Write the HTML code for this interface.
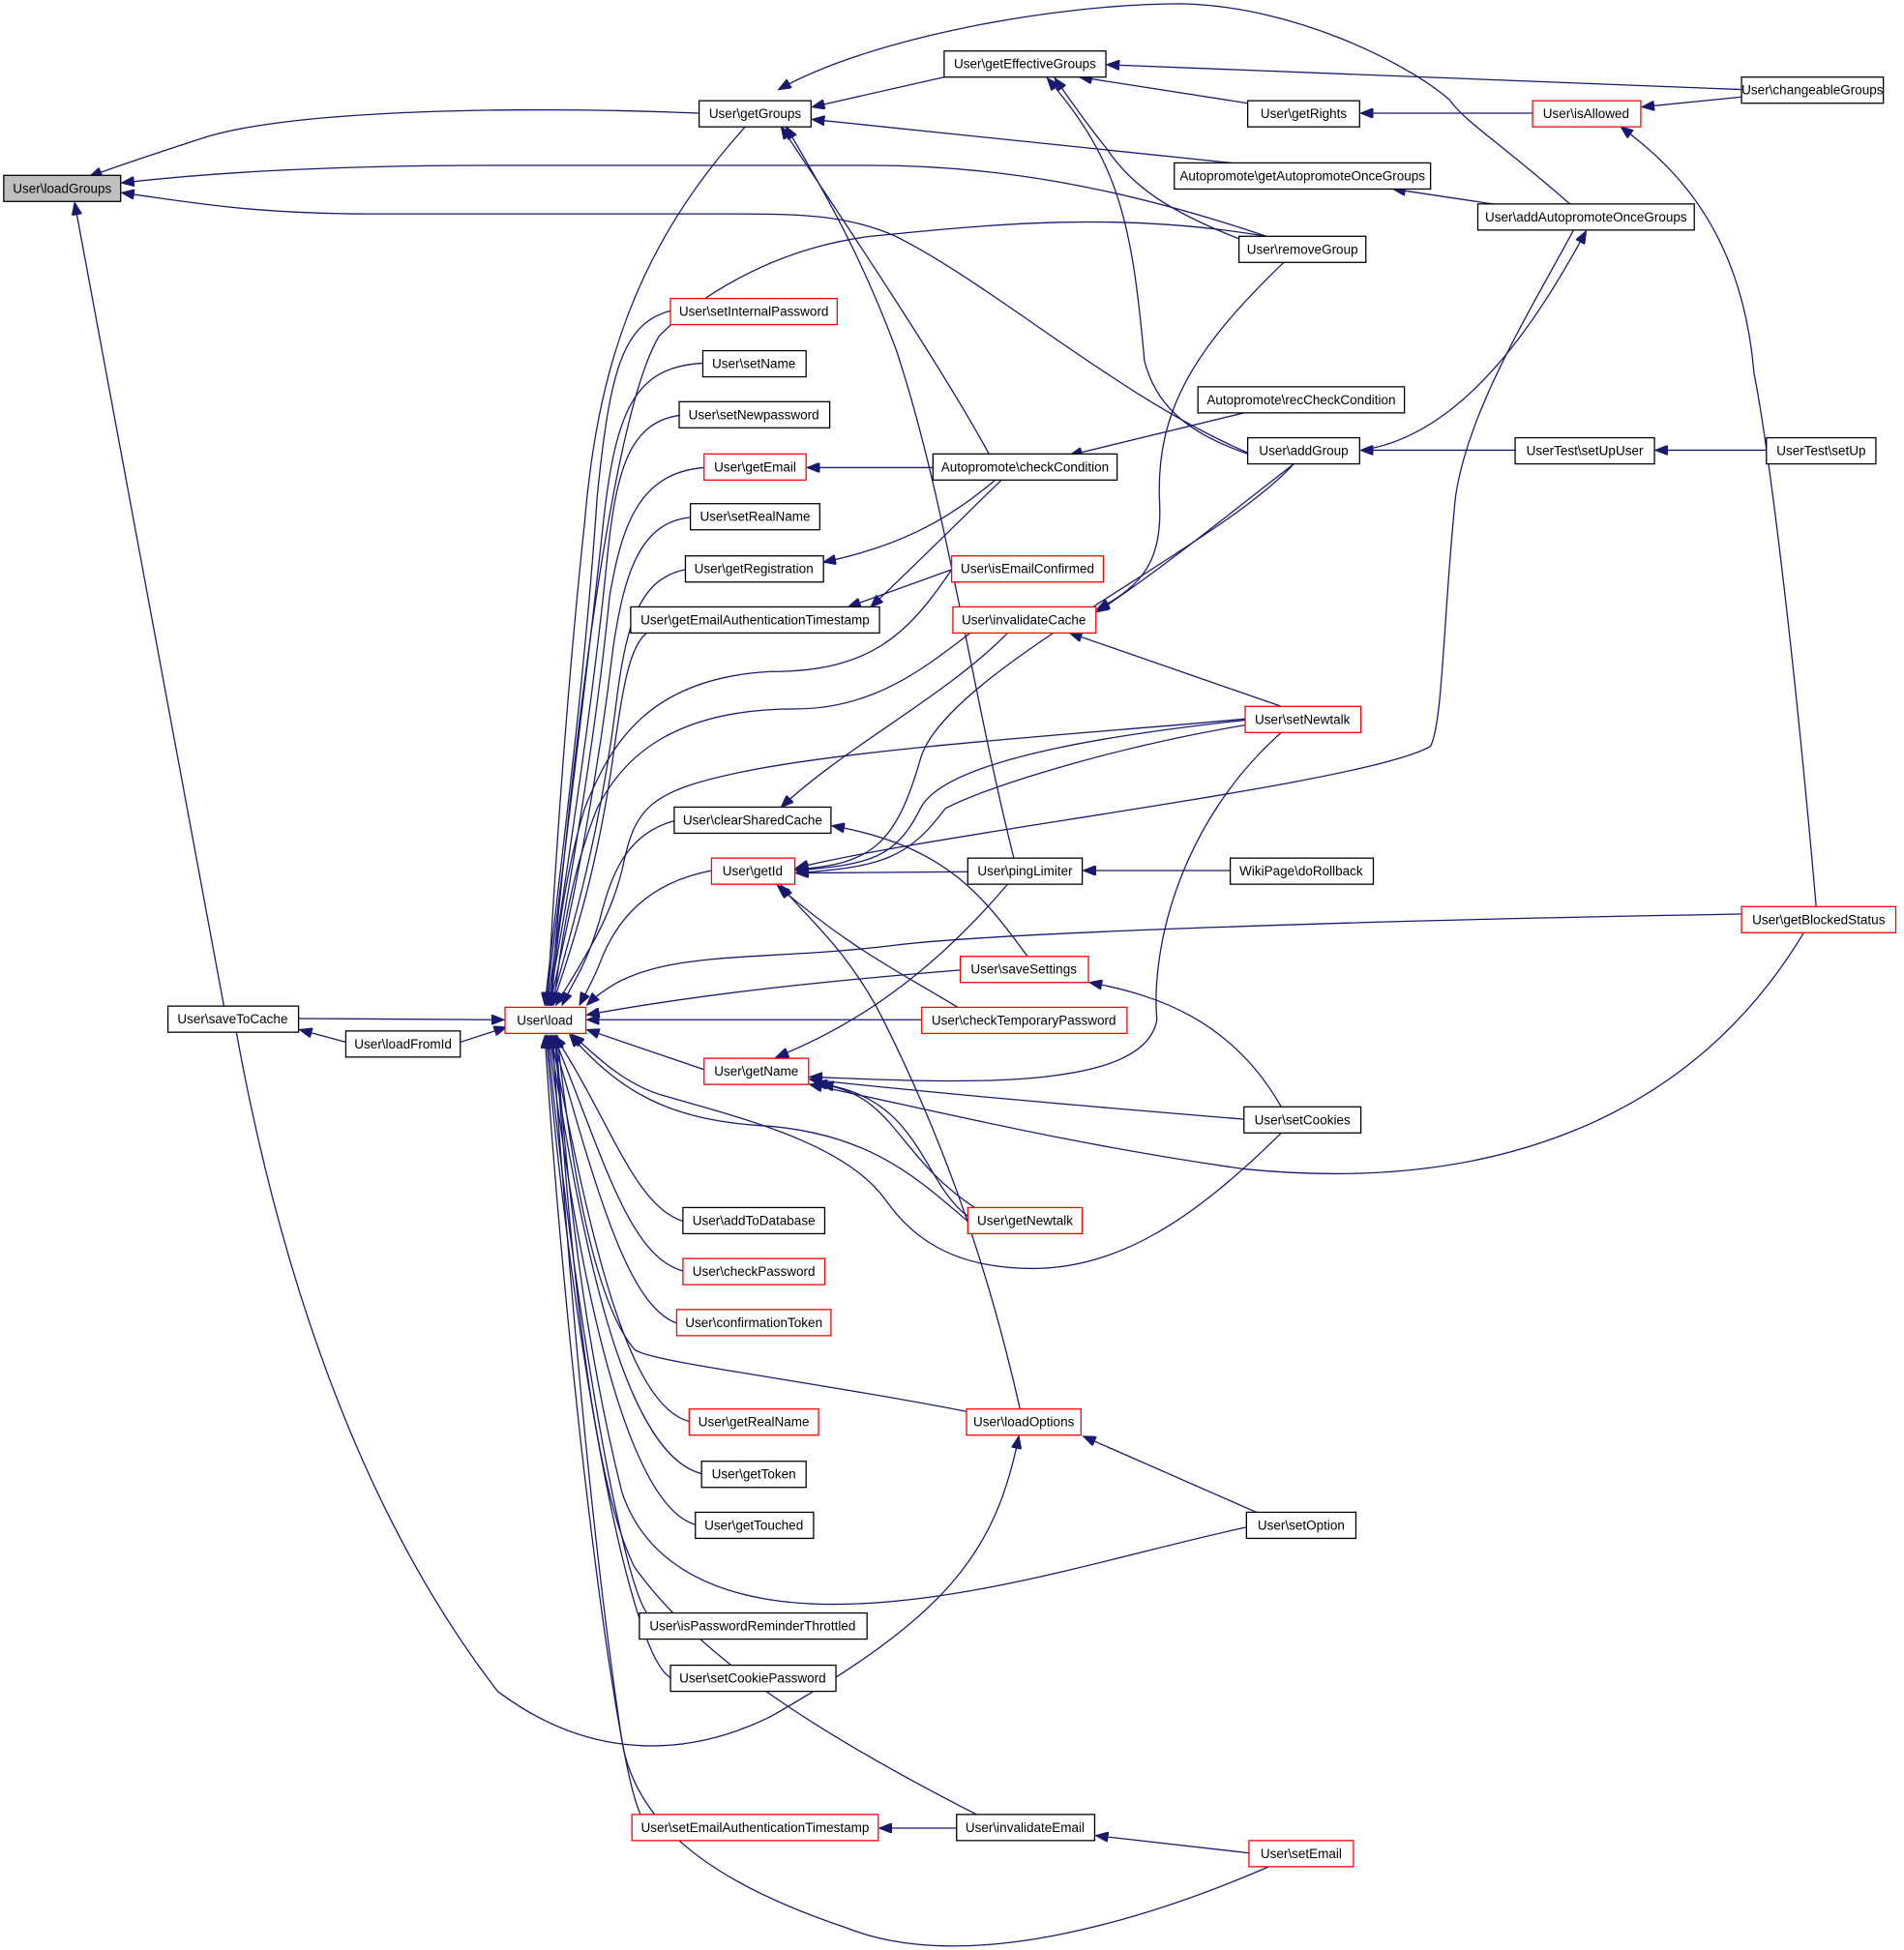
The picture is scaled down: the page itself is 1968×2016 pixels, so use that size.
<!DOCTYPE html>
<html><head><meta charset="utf-8"><style>
html,body{margin:0;padding:0;background:#fff;}
svg{display:block;}
text{font-family:"Liberation Sans",sans-serif;font-size:10.5px;text-anchor:middle;fill:#000;}
.e{fill:none;stroke:#191970;stroke-width:1;marker-end:url(#a);}
.b{fill:#fff;stroke:#000;stroke-width:1;}
.r{fill:#fff;stroke:#ff0000;stroke-width:1;}
</style></head><body>
<svg width="1968" height="2016" viewBox="0 0 1530.6 1568" preserveAspectRatio="none" xmlns="http://www.w3.org/2000/svg">
<defs><marker id="a" markerWidth="11" markerHeight="8" refX="10" refY="4" orient="auto" markerUnits="userSpaceOnUse"><path d="M0,0 L10,4 L0,8 Z" fill="#191970" stroke="#191970"/></marker></defs>
<rect width="1530.6" height="1568" fill="#fff"/>
<g>
<!-- to loadGroups -->
<path class="e" d="M562,91 C420,85 230,88 160,112 C120,125 90,135 72,142"/>
<path class="e" d="M1018,190 C900,150 800,133 700,133 L400,133 C250,133 160,140 98,147"/>
<path class="e" d="M1003,364 C900,320 800,230 720,190 C680,172 640,172 580,172 L300,172 C200,172 150,162 98,155"/>
<path class="e" d="M180,809 L60,163"/>
<!-- getGroups -->
<path class="e" d="M759,62 L653,86"/>
<path class="e" d="M1262,164 C1200,110 1180,100 1165,80 C1130,50 1040,5 950,3 C850,3 700,30 626,72"/>
<path class="e" d="M990,131 L653,96"/>
<path class="e" d="M795,365 C760,300 680,180 628,102"/>
<path class="e" d="M815,690 C780,550 760,400 720,280 C690,200 660,150 632,102"/>
<!-- getEffectiveGroups -->
<path class="e" d="M1400,72 L890,52"/>
<path class="e" d="M1003,83 L868,62"/>
<path class="e" d="M996,192 C940,170 910,150 890,120 C870,95 860,80 848,63"/>
<path class="e" d="M1003,365 C960,350 930,330 920,290 C910,180 900,130 842,63"/>
<!-- isAllowed / getRights -->
<path class="e" d="M1232,91 L1094,91"/>
<path class="e" d="M1400,78 L1320,86"/>
<path class="e" d="M1460,729 C1440,500 1420,350 1410,300 C1400,180 1340,130 1303,102"/>
<!-- autopromote -->
<path class="e" d="M1200,164 L1120,152"/>
<path class="e" d="M1094,362 C1180,350 1240,250 1275,186"/>
<path class="e" d="M1218,362 L1094,362"/>
<path class="e" d="M1420,362 L1331,362"/>
<path class="e" d="M1000,332 L860,366"/>
<path class="e" d="M750,376 L649,376"/>
<path class="e" d="M800,386 C760,420 720,440 662,452"/>
<path class="e" d="M805,386 C770,420 730,460 700,488"/>
<path class="e" d="M765,458 L682,488"/>
<!-- invalidateCache -->
<path class="e" d="M1032,211 C960,280 930,330 932,400 C935,450 920,470 882,490"/>
<path class="e" d="M1040,373 C980,420 930,460 882,492"/>
<path class="e" d="M1030,568 L860,509"/>
<path class="e" d="M810,509 C760,560 680,600 628,649"/>
<path class="e" d="M826,769 C790,720 760,680 669,664"/>
<!-- getId -->
<path class="e" d="M1001,579 C900,590 760,610 740,650 C720,690 700,695 640,700"/>
<path class="e" d="M1001,583 C900,600 800,630 760,650 C730,690 710,697 640,702"/>
<path class="e" d="M1040,373 C980,440 760,540 740,610 C720,680 700,695 640,699"/>
<path class="e" d="M1265,185 C1230,250 1180,330 1170,400 C1160,500 1160,580 1150,600 C1100,630 750,670 640,698"/>
<path class="e" d="M778,701 L640,702"/>
<path class="e" d="M770,810 C720,780 680,760 625,712"/>
<path class="e" d="M820,1133 C790,1000 750,900 710,820 C680,760 640,730 628,712"/>
<path class="e" d="M989,700 L871,700"/>
<path class="e" d="M810,711 C760,770 700,820 624,850"/>
<!-- load right side -->
<path class="e" d="M1400,735 C1100,740 800,750 720,760 C600,775 520,760 472,808"/>
<path class="e" d="M772,780 C650,790 560,800 472,816"/>
<path class="e" d="M741,820 L472,820"/>
<path class="e" d="M566,860 L472,828"/>
<path class="e" d="M370,838 L407,826"/>
<path class="e" d="M240,819 L405,820"/>
<path class="e" d="M278,838 L241,828"/>
<path class="e" d="M190,830 C230,1050 300,1230 400,1360 C480,1420 560,1410 620,1380 C760,1300 800,1250 819,1155"/>
<!-- getName -->
<path class="e" d="M1030,589 C950,660 925,760 930,820 C920,880 760,870 651,866"/>
<path class="e" d="M1000,900 C880,890 760,880 651,868"/>
<path class="e" d="M1450,750 C1360,900 1200,960 1000,940 C860,920 760,895 651,872"/>
<path class="e" d="M778,978 C740,950 740,880 655,871"/>
<path class="e" d="M785,972 C720,930 720,880 660,872"/>
<path class="e" d="M1030,890 C990,820 930,800 876,790"/>
<path class="e" d="M1030,911 C960,980 900,1020 830,1020 C760,1020 730,990 712,965 C680,920 600,900 530,880 C500,870 480,850 460,832"/>
<path class="e" d="M778,982 C740,950 700,910 610,905 C540,900 500,880 458,832"/>
<path class="e" d="M1010,1216 L871,1155"/>
<path class="e" d="M1002,1228 C900,1250 780,1290 670,1290 C580,1290 520,1260 500,1200 C470,1080 455,950 447,833"/>
<path class="e" d="M777,1135 C650,1110 520,1095 510,1085 C480,1050 460,950 448,833"/>
<path class="e" d="M769,1470 L707,1470"/>
<path class="e" d="M1004,1490 L881,1476"/>
<path class="e" d="M785,1459 C650,1390 560,1330 510,1260 C470,1180 455,950 446,833"/>
<path class="e" d="M1020,1501 C930,1540 780,1590 680,1550 C560,1510 510,1460 500,1400 C470,1200 452,950 444,833"/>
<!-- from far nodes to load top -->
<path class="e" d="M600,101 C510,200 480,300 470,420 C455,560 446,700 440,808"/>
<path class="e" d="M1018,190 C900,170 800,180 700,190 C620,200 560,240 530,270 C500,320 470,500 442,808"/>
<path class="e" d="M765,458 C730,510 700,540 620,540 C520,545 490,600 470,650 C455,700 448,750 443,808"/>
<path class="e" d="M780,509 C740,540 700,570 640,570 C540,570 500,610 480,650 C460,700 452,750 445,808"/>
<path class="e" d="M1001,578 C900,588 700,600 600,620 C520,636 510,650 500,700 C490,740 470,770 447,808"/>
<!-- left column children -> load -->
<path class="e" d="M539,250 C500,260 490,300 480,400 C470,550 450,700 438,808"/>
<path class="e" d="M565,292 C510,295 495,330 485,420 C470,560 452,700 439,808"/>
<path class="e" d="M546,334 C505,340 495,380 488,450 C475,580 455,700 440,808"/>
<path class="e" d="M566,376 C515,380 500,420 490,480 C478,600 458,710 441,808"/>
<path class="e" d="M555,416 C515,420 502,460 493,520 C480,630 462,720 442,808"/>
<path class="e" d="M551,458 C515,465 504,500 496,560 C484,660 465,730 443,808"/>
<path class="e" d="M520,509 C505,520 500,560 494,600 C482,690 464,750 444,808"/>
<path class="e" d="M542,660 C505,670 492,700 482,740 C470,780 460,790 452,808"/>
<path class="e" d="M572,700 C520,710 495,740 482,775 C476,790 470,800 466,808"/>
<path class="e" d="M549,982 C510,970 490,900 446,833"/>
<path class="e" d="M549,1022 C505,1010 485,930 445,833"/>
<path class="e" d="M544,1064 C505,1050 480,960 444,833"/>
<path class="e" d="M554,1143 C505,1130 475,1000 443,833"/>
<path class="e" d="M564,1185 C505,1170 470,1020 442,833"/>
<path class="e" d="M559,1226 C505,1210 466,1040 441,833"/>
<path class="e" d="M520,1297 C500,1270 462,1060 440,833"/>
<path class="e" d="M539,1349 C505,1330 460,1080 439,833"/>
<path class="e" d="M515,1459 C495,1420 455,1100 438,833"/>
</g>
<g>
<rect x="3" y="141" width="94" height="21" fill="#bfbfbf" stroke="#000"/><text x="50" y="155">User\loadGroups</text>
<rect class="b" x="562" y="81" width="90" height="21"/><text x="607" y="95">User\getGroups</text>
<rect class="b" x="759" y="41" width="130" height="21"/><text x="824" y="55">User\getEffectiveGroups</text>
<rect class="b" x="1400" y="62" width="114" height="21"/><text x="1457" y="76">User\changeableGroups</text>
<rect class="b" x="1003" y="81" width="90" height="21"/><text x="1048" y="95">User\getRights</text>
<rect class="r" x="1232" y="81" width="87" height="21"/><text x="1275" y="95">User\isAllowed</text>
<rect class="b" x="944" y="131" width="206" height="21"/><text x="1047" y="145">Autopromote\getAutopromoteOnceGroups</text>
<rect class="b" x="1188" y="164" width="174" height="21"/><text x="1275" y="178">User\addAutopromoteOnceGroups</text>
<rect class="b" x="996" y="190" width="102" height="21"/><text x="1047" y="204">User\removeGroup</text>
<rect class="r" x="539" y="240" width="134" height="21"/><text x="606" y="254">User\setInternalPassword</text>
<rect class="b" x="565" y="282" width="83" height="21"/><text x="606" y="296">User\setName</text>
<rect class="b" x="546" y="323" width="121" height="21"/><text x="606" y="337">User\setNewpassword</text>
<rect class="r" x="566" y="365" width="82" height="21"/><text x="607" y="379">User\getEmail</text>
<rect class="b" x="750" y="365" width="148" height="21"/><text x="824" y="379">Autopromote\checkCondition</text>
<rect class="b" x="963" y="311" width="166" height="21"/><text x="1046" y="325">Autopromote\recCheckCondition</text>
<rect class="b" x="1003" y="352" width="90" height="21"/><text x="1048" y="366">User\addGroup</text>
<rect class="b" x="1218" y="352" width="112" height="21"/><text x="1274" y="366">UserTest\setUpUser</text>
<rect class="b" x="1420" y="352" width="88" height="21"/><text x="1464" y="366">UserTest\setUp</text>
<rect class="b" x="555" y="405" width="104" height="21"/><text x="607" y="419">User\setRealName</text>
<rect class="b" x="551" y="447" width="111" height="21"/><text x="606" y="461">User\getRegistration</text>
<rect class="b" x="507" y="488" width="200" height="21"/><text x="607" y="502">User\getEmailAuthenticationTimestamp</text>
<rect class="r" x="765" y="447" width="122" height="21"/><text x="826" y="461">User\isEmailConfirmed</text>
<rect class="r" x="766" y="488" width="115" height="21"/><text x="823" y="502">User\invalidateCache</text>
<rect class="r" x="1001" y="568" width="93" height="21"/><text x="1047" y="582">User\setNewtalk</text>
<rect class="b" x="542" y="649" width="126" height="21"/><text x="605" y="663">User\clearSharedCache</text>
<rect class="r" x="572" y="690" width="67" height="21"/><text x="605" y="704">User\getId</text>
<rect class="b" x="778" y="690" width="92" height="21"/><text x="824" y="704">User\pingLimiter</text>
<rect class="b" x="989" y="690" width="115" height="21"/><text x="1046" y="704">WikiPage\doRollback</text>
<rect class="r" x="1400" y="729" width="124" height="21"/><text x="1462" y="743">User\getBlockedStatus</text>
<rect class="r" x="772" y="769" width="103" height="21"/><text x="823" y="783">User\saveSettings</text>
<rect class="b" x="135" y="809" width="105" height="21"/><text x="187" y="823">User\saveToCache</text>
<rect class="b" x="278" y="829" width="92" height="21"/><text x="324" y="843">User\loadFromId</text>
<rect class="r" x="406" y="810" width="65" height="21"/><text x="438" y="824">User\load</text>
<rect class="r" x="741" y="810" width="165" height="21"/><text x="823" y="824">User\checkTemporaryPassword</text>
<rect class="r" x="566" y="851" width="84" height="21"/><text x="608" y="865">User\getName</text>
<rect class="b" x="1000" y="890" width="94" height="21"/><text x="1047" y="904">User\setCookies</text>
<rect class="r" x="778" y="971" width="92" height="21"/><text x="824" y="985">User\getNewtalk</text>
<rect class="b" x="549" y="971" width="114" height="21"/><text x="606" y="985">User\addToDatabase</text>
<rect class="r" x="549" y="1012" width="114" height="21"/><text x="606" y="1026">User\checkPassword</text>
<rect class="r" x="544" y="1053" width="124" height="21"/><text x="606" y="1067">User\confirmationToken</text>
<rect class="r" x="777" y="1133" width="92" height="21"/><text x="823" y="1147">User\loadOptions</text>
<rect class="r" x="554" y="1133" width="104" height="21"/><text x="606" y="1147">User\getRealName</text>
<rect class="b" x="564" y="1175" width="84" height="21"/><text x="606" y="1189">User\getToken</text>
<rect class="b" x="559" y="1216" width="95" height="21"/><text x="606" y="1230">User\getTouched</text>
<rect class="b" x="1002" y="1216" width="88" height="21"/><text x="1046" y="1230">User\setOption</text>
<rect class="b" x="514" y="1297" width="183" height="21"/><text x="605" y="1311">User\isPasswordReminderThrottled</text>
<rect class="b" x="539" y="1339" width="133" height="21"/><text x="605" y="1353">User\setCookiePassword</text>
<rect class="r" x="508" y="1459" width="198" height="21"/><text x="607" y="1473">User\setEmailAuthenticationTimestamp</text>
<rect class="b" x="769" y="1459" width="111" height="21"/><text x="824" y="1473">User\invalidateEmail</text>
<rect class="r" x="1004" y="1480" width="84" height="21"/><text x="1046" y="1494">User\setEmail</text>
</g>
</svg>
</body></html>
